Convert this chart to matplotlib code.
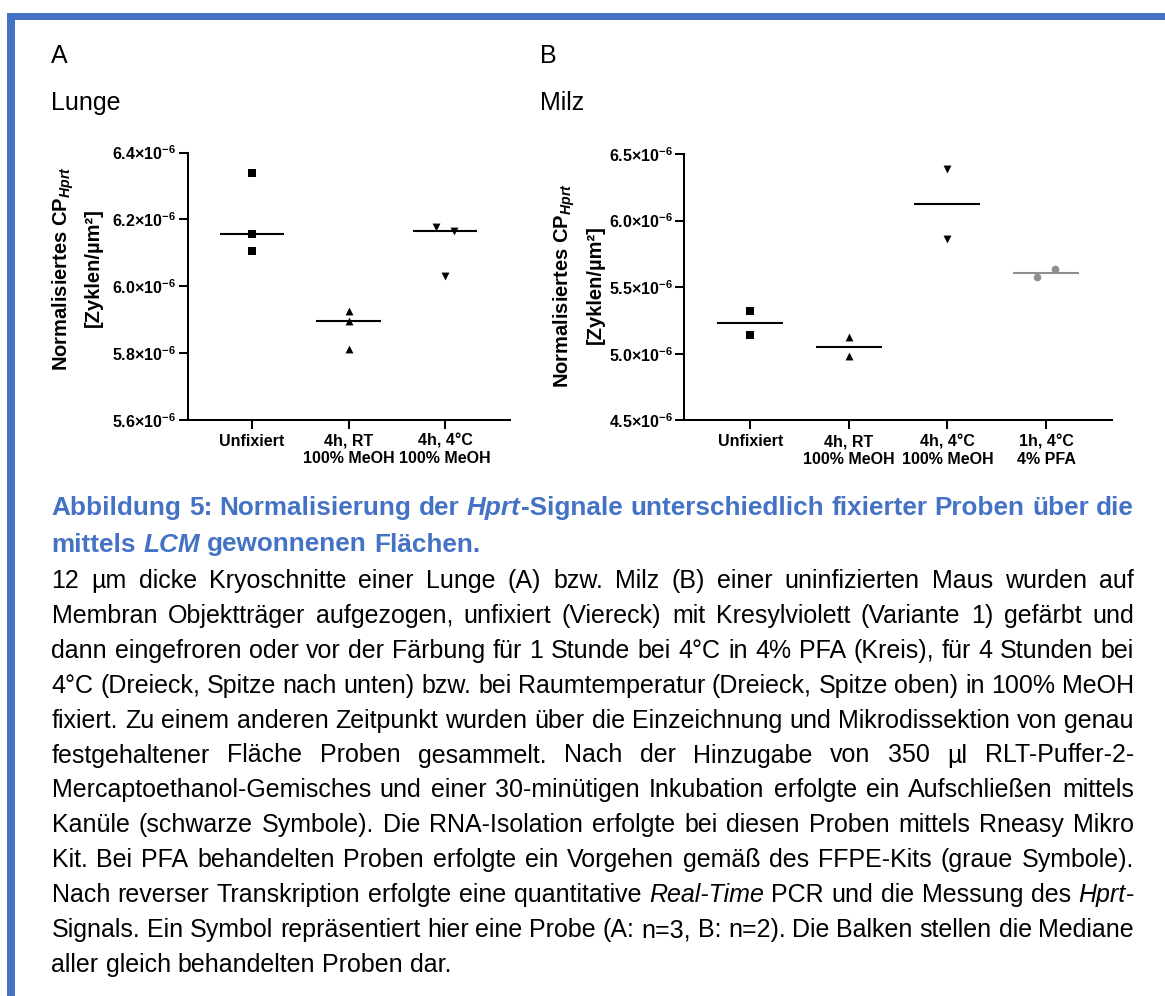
import numpy as np
import matplotlib
matplotlib.use('Agg')
import matplotlib.pyplot as plt
from matplotlib.patches import Rectangle
from matplotlib.ticker import FuncFormatter

plt.rcParams['font.family'] = ['Liberation Sans', 'DejaVu Sans']
plt.rcParams['mathtext.fontset'] = 'custom'
plt.rcParams['mathtext.rm'] = 'Liberation Sans:bold'
plt.rcParams['mathtext.it'] = 'Liberation Sans:bold:italic'
plt.rcParams['mathtext.bf'] = 'Liberation Sans:bold'

W, H = 1165, 996
BLUE = '#4472C4'
GREY = '#8e8e8e'

# ---- data, panel A (Lunge), n=3
lunge_groups = ['Unfixiert', '4h, RT\n100% MeOH', '4h, 4°C\n100% MeOH']
lunge_unfixiert = [6.340e-6, 6.157e-6, 6.105e-6]
lunge_rt_meoh = [5.927e-6, 5.897e-6, 5.813e-6]
lunge_4c_meoh = [6.178e-6, 6.165e-6, 6.030e-6]

# ---- data, panel B (Milz), n=2
milz_groups = ['Unfixiert', '4h, RT\n100% MeOH', '4h, 4°C\n100% MeOH', '1h, 4°C\n4% PFA']
milz_unfixiert = [5.320e-6, 5.140e-6]
milz_rt_meoh = [5.123e-6, 4.985e-6]
milz_4c_meoh = [6.390e-6, 5.862e-6]
milz_4c_pfa = [5.575e-6, 5.635e-6]

heading = ['Abbildung 5: Normalisierung der *Hprt*-Signale unterschiedlich fixierter Proben über die',
           'mittels *LCM* gewonnenen Flächen.']
body = [
    '12 µm dicke Kryoschnitte einer Lunge (A) bzw. Milz (B) einer uninfizierten Maus wurden auf',
    'Membran Objektträger aufgezogen, unfixiert (Viereck) mit Kresylviolett (Variante 1) gefärbt und',
    'dann eingefroren oder vor der Färbung für 1 Stunde bei 4°C in 4% PFA (Kreis), für 4 Stunden bei',
    '4°C (Dreieck, Spitze nach unten) bzw. bei Raumtemperatur (Dreieck, Spitze oben) in 100% MeOH',
    'fixiert. Zu einem anderen Zeitpunkt wurden über die Einzeichnung und Mikrodissektion von genau',
    'festgehaltener Fläche Proben gesammelt. Nach der Hinzugabe von 350 µl RLT-Puffer-2-',
    'Mercaptoethanol-Gemisches und einer 30-minütigen Inkubation erfolgte ein Aufschließen mittels',
    'Kanüle (schwarze Symbole). Die RNA-Isolation erfolgte bei diesen Proben mittels Rneasy Mikro',
    'Kit. Bei PFA behandelten Proben erfolgte ein Vorgehen gemäß des FFPE-Kits (graue Symbole).',
    'Nach reverser Transkription erfolgte eine quantitative *Real-Time* PCR und die Messung des *Hprt*-',
    'Signals. Ein Symbol repräsentiert hier eine Probe (A: n=3, B: n=2). Die Balken stellen die Mediane',
    'aller gleich behandelten Proben dar.',
]

fig = plt.figure(figsize=(W / 100, H / 100), dpi=100)
fig.patch.set_facecolor('white')
renderer = fig.canvas.get_renderer()


def fx(px):
    return px / W


def fy(py):
    return 1 - py / H


# blue frame (top and left edge)
fig.patches.append(Rectangle((fx(7), fy(20.5)), 1, 7.5 / H, transform=fig.transFigure,
                             color=BLUE, lw=0))
fig.patches.append(Rectangle((fx(7), 0), 8 / W, fy(13), transform=fig.transFigure,
                             color=BLUE, lw=0))


def spread(vals, px_per_unit, min_px=9.0, off=0.09):
    # put overlapping points side by side, like the original scatter
    x = np.zeros(len(vals))
    for i in range(len(vals)):
        for j in range(i + 1, len(vals)):
            if abs(vals[i] - vals[j]) * px_per_unit < min_px and x[i] == 0 and x[j] == 0:
                x[i], x[j] = -off, off
    return x


def panel(rect, groups, series, markers, colors, ylim, step):
    ax = fig.add_axes(rect)
    ax.set_xlim(-0.67, len(groups) - 1 + 0.67)
    ax.set_ylim(*ylim)
    nt = int(round((ylim[1] - ylim[0]) / step)) + 1
    ax.set_yticks(np.linspace(ylim[0], ylim[1], nt))
    ax.yaxis.set_major_formatter(FuncFormatter(lambda v, p: r'$%.1f{\times}10^{-6}$' % (v * 1e6)))
    ax.set_xticks(range(len(groups)))
    ax.set_xticklabels(groups, fontweight='bold', fontsize=11.5)
    for s in ['top', 'right']:
        ax.spines[s].set_visible(False)
    for s in ['left', 'bottom']:
        ax.spines[s].set_linewidth(1.45)
    ax.tick_params(axis='both', length=6.5, width=1.45, labelsize=11.5)
    ax.tick_params(axis='y', pad=2)
    ax.tick_params(axis='x', pad=3.5)
    ppu = rect[3] * H / (ylim[1] - ylim[0])
    sizes = {'s': 36, '^': 32, 'v': 32, 'o': 30}
    for i, (vals, m, c) in enumerate(zip(series, markers, colors)):
        xs = spread(vals, ppu) + i
        ax.scatter(xs, vals, marker=m, s=sizes[m], color=c, linewidths=0, zorder=3, clip_on=False)
        ax.hlines(np.median(vals), i - 0.335, i + 0.335, color=c, lw=1.5, zorder=2)
    return ax


axA = panel([fx(187.5), fy(420), 322.1 / W, 267.5 / H], lunge_groups,
            [lunge_unfixiert, lunge_rt_meoh, lunge_4c_meoh],
            ['s', '^', 'v'], ['black', 'black', 'black'], (5.6e-6, 6.4e-6), 0.2e-6)
axB = panel([fx(684.3), fy(420.3), 427.7 / W, 266.3 / H], milz_groups,
            [milz_unfixiert, milz_rt_meoh, milz_4c_meoh, milz_4c_pfa],
            ['s', '^', 'v', 'o'], ['black', 'black', 'black', GREY], (4.5e-6, 6.5e-6), 0.5e-6)

# y labels
lab1 = r'Normalisiertes $\mathrm{CP}_{\mathit{Hprt}}$'
lab2 = '[Zyklen/µm²]'
for (x1, x2, yc) in [(68, 99, 268), (569, 601, 285)]:
    fig.text(fx(x1), fy(yc), lab1, rotation=90, rotation_mode='anchor', ha='center',
             va='baseline', fontsize=14.5, fontweight='bold')
    fig.text(fx(x2), fy(yc), lab2, rotation=90, rotation_mode='anchor', ha='center',
             va='baseline', fontsize=14.5, fontweight='bold')

# panel letters and titles
for x, letter, name in [(51, 'A', 'Lunge'), (540, 'B', 'Milz')]:
    fig.text(fx(x), fy(63.3), letter, fontsize=18, va='baseline')
    fig.text(fx(x), fy(110), name, fontsize=18, va='baseline')

# caption, justified like the source document
L, R = 51.5, 1134


def space_width(size, weight):
    a = fig.text(0, 0, 'x x', fontsize=size, fontweight=weight)
    b = fig.text(0, 0, 'xx', fontsize=size, fontweight=weight)
    w = a.get_window_extent(renderer).width - b.get_window_extent(renderer).width
    a.remove()
    b.remove()
    return w


def caption_line(line, y_px, size, weight, color, justify):
    words = []
    for w in line.split(' '):
        segs = []
        for k, part in enumerate(w.split('*')):
            if part:
                segs.append((part, 'italic' if k % 2 else 'normal'))
        words.append(segs)
    placed = []
    widths = []
    for segs in words:
        ts = []
        tot = 0
        for txt, st in segs:
            t = fig.text(0, fy(y_px), txt, fontsize=size, fontweight=weight, fontstyle=st,
                         color=color, ha='left', va='baseline')
            w = t.get_window_extent(renderer).width
            ts.append((t, w))
            tot += w
        placed.append(ts)
        widths.append(tot)
    if justify and len(words) > 1:
        gap = (R - L - sum(widths)) / (len(words) - 1)
    else:
        gap = space_width(size, weight)
    x = L
    for ts, tot in zip(placed, widths):
        xx = x
        for t, w in ts:
            t.set_x(fx(xx))
            xx += w
        x += tot + gap


caption_line(heading[0], 515, 18.8, 'bold', BLUE, True)
caption_line(heading[1], 551.5, 18.8, 'bold', BLUE, False)
for k, line in enumerate(body):
    caption_line(line, 588 + 34.9 * k, 18, 'normal', 'black', k < len(body) - 1)

fig.savefig('out.png', dpi=100, facecolor='white')
